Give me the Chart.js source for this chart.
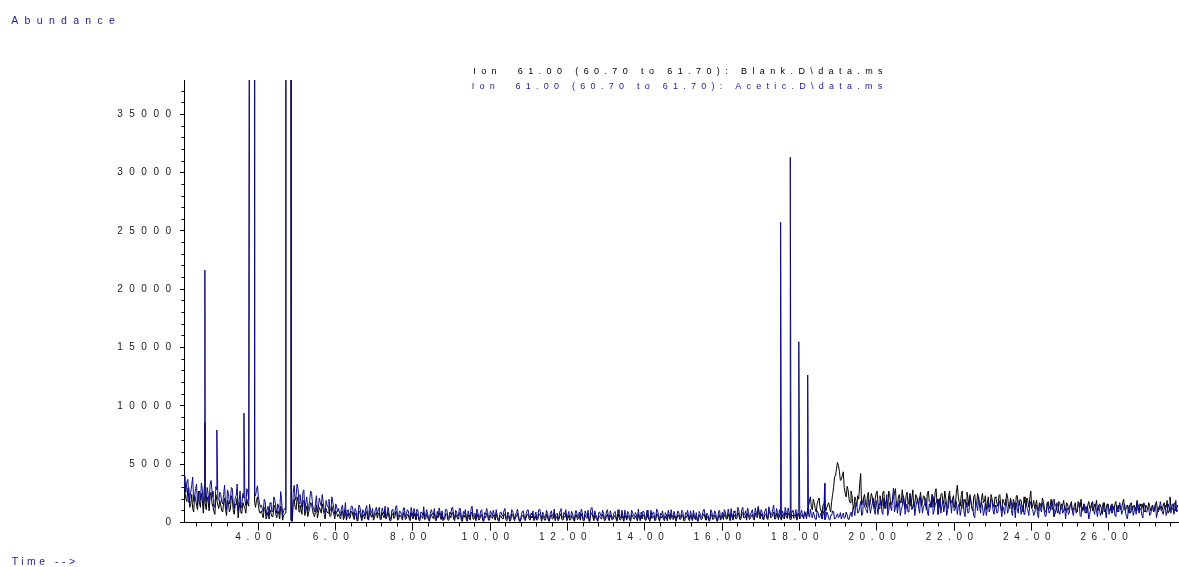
<!DOCTYPE html>
<html>
<head>
<meta charset="utf-8">
<script src="https://cdn.jsdelivr.net/npm/chart.js@4.4.1/dist/chart.umd.min.js"></script>
<style>
  html, body { margin: 0; padding: 0; background: #fff; }
  canvas { display: block; }
</style>
</head>
<body>
<canvas id="tic" width="1179" height="567"></canvas>
<script>
// Extracted ion chromatograms, m/z 61.
// Scans on a 0.05 min grid from 2.08 min, plus the half-step scans in between.
const T0 = 2.08;
const DT = 0.05;
const X_MIN = 2.08, X_MAX = 27.8;
const Y_MIN = 0, Y_MAX = 37950;

// Acetic.D — abundance at T0 + i*DT (null = inside an off-scale peak)
const aceticSignal = [
  3950, 2600, 3700, 2100, 3200, 1800, 2900, 1500, 2700, 3400, 1400, 2500, 3000, 1700, 3600, 2200, 1300, 2800, 1900, 2400,
  1600, 3200, 1100, 2500, 1900, 2900, 1200, 2300, 1000, 2700, 1700, 2100, 1400, 2600, null, null, null, 2300, 3150, 1700,
  1500, 900, 1800, 1100, 700, 1600, 1000, 1900, 800, 1300, 2650, 600, 1200, null, null, null, 150, 3200, 2300, 2900,
  2400, 1300, 2800, 1700, 1000, 1900, 2500, 1200, 1600, 900, 2100, 1400, 1800, 800, 1500, 2000, 1100, 1700, 700, 1300,
  1200, 600, 1500, 900, 400, 1100, 800, 1400, 500, 1000, 700, 1300, 350, 900, 1200, 600, 1550, 800, 450, 1100,
  700, 1300, 500, 950, 1400, 600, 850, 300, 1150, 750, 1450, 550, 900, 400, 1250, 700, 1000, 350, 850, 1200,
  500, 1000, 300, 850, 1350, 600, 750, 250, 1100, 650, 400, 950, 1250, 550, 300, 800, 1050, 450, 700, 1300,
  350, 900, 600, 1150, 250, 750, 500, 1000, 400, 1400, 650, 300, 850, 550, 1100, 200, 700, 950, 450, 800,
  1050, 400, 650, 250, 900, 550, 1200, 350, 700, 450, 1000, 300, 800, 600, 150, 950, 500, 750, 1100, 400,
  650, 300, 900, 500, 1150, 250, 700, 450, 850, 200, 1000, 600, 350, 800, 550, 1200, 400, 700, 300, 950,
  500, 750, 250, 1000, 600, 400, 850, 300, 700, 1050, 450, 1300, 350, 650, 200, 900, 550, 800, 400, 1100,
  300, 700, 550, 950, 250, 800, 450, 600, 1050, 350, 750, 200, 900, 500, 650, 1150, 300, 550, 850, 400,
  750, 250, 600, 900, 400, 1000, 200, 650, 500, 850, 300, 700, 1100, 450, 600, 250, 800, 550, 950, 350,
  700, 450, 1000, 300, 600, 850, 200, 750, 500, 1150, 400, 650, 300, 900, 550, 800, 250, 1050, 600, 450,
  900, 500, 750, 1200, 350, 850, 600, 1000, 450, 1300, 700, 400, 950, 600, 1100, 350, 800, 1400, 550, 900,
  650, 1200, 400, 950, 700, 1500, 500, 850, 1100, 300, 750, 1300, 600, 900, 450, 1050, 700, 350, 1200, 800,
  500, 950, 300, 700, 1150, 400, 650, 250, 850, 550, 300, 1000, 450, 700, 200, 600, 900, 350, 750, 500,
  300, 800, 450, 650, 250, 900, 1300, 600, 1500, 900, 1800, 700, 1400, 1000, 2000, 800, 1600, 1100, 1900, 700,
  1500, 900, 2100, 1200, 600, 1700, 1000, 2950, 1300, 800, 1900, 1100, 2300, 700, 1600, 1000, 2000, 1400, 600, 1800,
  1200, 2200, 800, 1500, 1900, 600, 1300, 2400, 1000, 1700, 700, 2100, 1400, 900, 1800, 1100, 2300, 800, 1500, 1200,
  700, 1600, 1100, 2000, 500, 1300, 900, 1800, 1200, 400, 1500, 2200, 800, 1400, 1000, 600, 1700, 1200, 1900, 700,
  1300, 900, 1600, 500, 1100, 2000, 800, 1400, 1000, 1700, 400, 1200, 1900, 700, 1500, 900, 1300, 600, 1800, 1100,
  800, 1500, 400, 1200, 1700, 900, 600, 1300, 1000, 1900, 500, 1100, 1400, 700, 1600, 1000, 300, 1200, 900, 1500,
  600, 1300, 1000, 1700, 500, 1100, 800, 1400, 300, 1200, 1800, 700, 1000, 1500, 600, 1300, 900, 400, 1600, 1100,
  800, 1400, 500, 1100, 1700, 700, 1200, 900, 300, 1500, 1000, 600, 1300, 1800, 800, 1100, 400, 1400, 900, 1200,
  700, 1500, 1000, 400, 1300, 1800, 900, 1200, 600, 1600, 1000, 1400, 700, 1900, 1100
];

// Acetic.D — abundance at T0 + DT/2 + i*DT
const aceticHalfStep = [
  2900, 3500, 1700, 2600, 3900, 2200, 3300, 2500, 1900, 2800, 3100, 1800, 2400, 3300, 2700, 1500, 3100, 2000, 2600, 1800,
  2400, 1400, 2800, 1600, 3000, 1500, 2100, 3300, 1800, 1300, 2500, 1900, 2900, 2000, null, null, 2500, 2800, 2200, 1300,
  1200, 2000, 600, 1400, 1700, 900, 2200, 1300, 1600, 700, 1900, 1000, 1100, null, null, 200, 2600, 1900, 3300, 1600,
  1800, 2600, 1000, 2200, 1400, 2700, 1500, 900, 2300, 1300, 1700, 2400, 1100, 1900, 1300, 1000, 2200, 1200, 1600, 900,
  800, 1300, 500, 1700, 1000, 600, 1400, 900, 1200, 300, 1500, 800, 1100, 600, 1450, 350, 1000, 1200, 700, 1300,
  1100, 400, 1250, 700, 500, 1300, 300, 1050, 600, 1350, 400, 1000, 650, 1250, 450, 1100, 550, 1300, 500, 750,
  1150, 350, 900, 600, 450, 1100, 400, 950, 700, 1200, 300, 650, 850, 1000, 500, 1150, 350, 900, 1250, 550,
  1050, 500, 1250, 300, 950, 1100, 250, 650, 1200, 550, 800, 1150, 400, 1000, 300, 850, 1200, 350, 1000, 600,
  700, 1100, 300, 850, 600, 1000, 450, 900, 250, 1100, 600, 750, 1150, 200, 650, 1000, 300, 1050, 550, 800,
  1000, 550, 350, 1100, 700, 900, 400, 1050, 300, 800, 550, 1150, 700, 300, 1000, 450, 850, 1100, 600, 400,
  950, 350, 1000, 450, 900, 1150, 300, 1000, 600, 250, 1200, 700, 1000, 450, 850, 600, 1050, 300, 900, 550,
  1000, 350, 850, 500, 1100, 400, 1050, 250, 700, 950, 450, 1050, 600, 850, 300, 550, 900, 1000, 350, 1050,
  400, 1050, 850, 300, 1150, 500, 800, 1000, 300, 650, 1050, 400, 550, 950, 250, 1000, 400, 1050, 300, 850,
  1050, 300, 600, 1050, 400, 250, 950, 450, 1000, 650, 800, 300, 1100, 450, 1000, 300, 950, 350, 900, 1100,
  450, 1150, 300, 650, 1000, 500, 1300, 400, 1100, 600, 1000, 1250, 450, 900, 500, 1250, 600, 900, 1100, 400,
  1000, 550, 1350, 600, 1100, 450, 1200, 400, 650, 1000, 500, 850, 1250, 400, 950, 550, 1100, 800, 500, 1050,
  300, 700, 1050, 450, 600, 900, 300, 1000, 400, 800, 650, 250, 900, 350, 600, 1000, 300, 550, 400, 850,
  600, 350, 900, 300, 700, 500, 1100, 1700, 800, 1300, 600, 2100, 1200, 800, 1500, 1200, 2100, 700, 1300, 1600,
  1900, 700, 1400, 2400, 1000, 1300, 2200, 900, 1800, 1500, 600, 1400, 2000, 1200, 900, 2400, 1100, 1800, 1300, 2100,
  800, 1700, 1400, 2100, 900, 1600, 1900, 700, 1500, 2000, 1200, 800, 1900, 1500, 600, 1400, 1700, 2000, 1000, 1800,
  1400, 600, 1900, 900, 1700, 800, 2100, 1300, 600, 1700, 1000, 1400, 1800, 600, 1700, 1200, 900, 2000, 1000, 1500,
  800, 1900, 1200, 1400, 700, 1600, 1100, 1900, 600, 1300, 1700, 800, 1500, 1100, 700, 1800, 1000, 1500, 1200, 600,
  1300, 700, 1600, 900, 1400, 500, 1700, 800, 1500, 1200, 700, 1700, 1000, 1300, 800, 1400, 1200, 700, 1600, 1000,
  1200, 800, 1500, 600, 1300, 1600, 900, 1200, 700, 1500, 1000, 1400, 500, 1200, 900, 1700, 1100, 1300, 700, 1400,
  1100, 600, 1500, 900, 1300, 1000, 1600, 500, 1200, 800, 1400, 1000, 700, 1500, 1200, 600, 1700, 900, 1300, 600,
  1200, 900, 1600, 800, 1100, 1400, 700, 1500, 1000, 1300, 800, 1600, 1200, 900
];

// Blank.D — abundance at T0 + i*DT
const blankSignal = [
  3400, 2000, 2900, 1300, 2400, 900, 2000, 1100, 1700, 2500, 800, 1600, 2200, 1000, 2600, 1400, 700, 1900, 1200, 1500,
  900, 2100, 600, 1700, 1200, 2000, 700, 1500, 400, 1800, 1000, 1400, 800, 1600, null, null, null, 1300, 2200, 900,
  1000, 400, 1200, 600, 300, 1100, 500, 1300, 400, 800, 1400, 200, 700, null, null, null, 100, 2000, 1100, 1800,
  1500, 700, 1900, 1000, 500, 1200, 1600, 700, 1000, 400, 1300, 800, 1100, 300, 900, 1300, 600, 1000, 300, 800,
  700, 300, 1000, 500, 200, 800, 400, 900, 250, 650, 350, 850, 150, 550, 800, 300, 1000, 450, 200, 700,
  400, 850, 250, 600, 950, 300, 500, 150, 750, 400, 950, 250, 550, 200, 800, 350, 650, 150, 500, 800,
  250, 650, 150, 500, 900, 300, 450, 100, 700, 350, 200, 600, 850, 250, 150, 500, 700, 200, 400, 850,
  150, 550, 300, 750, 100, 450, 250, 650, 200, 900, 350, 150, 500, 300, 700, 100, 400, 600, 200, 500,
  650, 200, 400, 100, 550, 300, 750, 150, 450, 200, 650, 150, 500, 350, 100, 600, 250, 450, 700, 200,
  400, 150, 550, 250, 700, 100, 450, 200, 550, 100, 650, 350, 150, 500, 300, 750, 200, 450, 150, 600,
  250, 450, 100, 650, 350, 200, 550, 150, 450, 700, 250, 800, 150, 400, 100, 550, 300, 500, 200, 700,
  150, 450, 300, 600, 100, 500, 250, 350, 650, 200, 450, 100, 550, 300, 400, 700, 150, 300, 550, 200,
  450, 100, 350, 550, 200, 650, 100, 400, 250, 550, 150, 450, 700, 250, 350, 100, 500, 300, 600, 150,
  450, 250, 650, 150, 350, 550, 100, 450, 300, 750, 200, 400, 150, 600, 300, 500, 100, 650, 350, 250,
  550, 300, 450, 750, 200, 550, 350, 650, 250, 850, 400, 200, 600, 350, 700, 200, 500, 1270, 300, 550,
  400, 750, 250, 950, 450, 900, 300, 550, 700, 200, 450, 850, 350, 600, 250, 650, 450, 200, 800, 500,
  600, 900, 450, 1400, 2200, 1100, 1700, 900, 1900, 1300, 800, 1600, 1000, 1500, 1200, 1800, 3000, 4000, 5150, 4400,
  3700, 4350, 2500, 3100, 2000, 2700, 1500, 2200, 1400, 2000, 4200, 1800, 2400, 1300, 2600, 1700, 2200, 1200, 2500, 1600,
  2300, 1400, 2700, 1800, 1100, 2500, 1600, 2200, 2900, 1300, 2400, 1700, 2100, 1200, 2600, 1900, 1400, 2800, 1600, 2200,
  1500, 2600, 1800, 2200, 1100, 2700, 1700, 2400, 1300, 2900, 2000, 1400, 2500, 1600, 2100, 1200, 2700, 1800, 2300, 1500,
  3200, 1700, 2300, 1200, 2000, 2600, 1400, 1900, 1000, 2400, 1600, 2100, 1300, 2500, 1800, 1100, 2200, 1500, 2000, 1300,
  2100, 1400, 2400, 1000, 1800, 1500, 2200, 1200, 1700, 2000, 1100, 2300, 1500, 1900, 900, 1700, 2100, 1300, 2700, 1500,
  1200, 1900, 1000, 1600, 2100, 1300, 900, 1800, 1400, 1100, 2000, 1500, 800, 1700, 1200, 1900, 1000, 1600, 1300, 1800,
  1100, 1700, 900, 1500, 2000, 1200, 1400, 800, 1800, 1300, 1000, 1600, 1900, 1100, 1500, 700, 1700, 1200, 1400, 1000,
  1600, 1100, 1800, 900, 1400, 1200, 2000, 1000, 1500, 800, 1700, 1300, 1100, 1900, 1000, 1400, 1600, 900, 1300, 1700,
  1000, 1500, 1200, 1800, 900, 1400, 1100, 1700, 1300, 800, 2200, 1200, 1600, 1000, 1500
];

// Blank.D — abundance at T0 + DT/2 + i*DT
const blankHalfStep = [
  2600, 1800, 3000, 1600, 1200, 2300, 1500, 2700, 1300, 1900, 2100, 1100, 1800, 2300, 1600, 900, 2400, 1500, 1900, 1000,
  1700, 1100, 1900, 900, 2300, 1000, 1600, 2100, 1200, 800, 1700, 1200, 2000, 1400, null, null, 1800, 1900, 1400, 800,
  700, 1300, 300, 900, 1100, 500, 1500, 700, 1000, 300, 1200, 600, 800, null, null, 150, 1700, 1300, 2200, 900,
  1200, 1800, 600, 1400, 900, 1700, 1000, 500, 1500, 800, 1100, 1600, 700, 1200, 800, 500, 1400, 700, 1000, 500,
  500, 900, 250, 1100, 600, 350, 950, 500, 800, 150, 1000, 450, 700, 300, 950, 200, 650, 800, 400, 850,
  700, 250, 850, 400, 300, 900, 150, 700, 350, 900, 200, 650, 400, 850, 250, 700, 300, 850, 300, 500,
  750, 200, 600, 350, 250, 750, 200, 650, 400, 800, 150, 400, 550, 700, 300, 750, 200, 600, 800, 300,
  700, 300, 850, 150, 650, 750, 100, 400, 800, 300, 550, 750, 200, 650, 150, 550, 800, 200, 650, 350,
  450, 750, 150, 550, 350, 650, 250, 600, 100, 750, 350, 500, 800, 100, 400, 650, 150, 700, 300, 550,
  650, 300, 200, 750, 450, 600, 200, 700, 150, 550, 300, 800, 450, 150, 650, 250, 550, 750, 350, 200,
  600, 200, 650, 250, 600, 750, 150, 650, 350, 100, 800, 450, 650, 250, 550, 350, 700, 150, 600, 300,
  650, 200, 550, 300, 750, 200, 700, 100, 450, 600, 250, 700, 350, 550, 150, 350, 600, 650, 200, 700,
  250, 700, 550, 150, 750, 300, 550, 650, 150, 400, 700, 250, 350, 600, 100, 650, 250, 700, 150, 550,
  700, 150, 400, 700, 250, 150, 650, 250, 650, 400, 550, 150, 750, 250, 650, 150, 600, 200, 600, 750,
  300, 750, 150, 450, 650, 300, 850, 250, 750, 400, 650, 800, 250, 600, 300, 800, 400, 600, 750, 250,
  650, 350, 900, 400, 700, 300, 800, 250, 450, 650, 300, 550, 800, 250, 600, 350, 700, 500, 300, 650,
  400, 700, 1000, 1800, 1300, 2000, 1200, 1600, 2100, 1000, 1500, 1900, 1300, 1700, 900, 2400, 3900, 4600, 4900, 3600,
  4000, 3000, 2200, 2800, 1700, 2300, 1200, 1900, 2300, 3300, 1500, 2100, 1700, 2300, 1300, 2500, 1600, 2000, 2700, 1200,
  1800, 2600, 1200, 2000, 2700, 1500, 1900, 2500, 1400, 2200, 1700, 2800, 1500, 2300, 1600, 2500, 2100, 1300, 2400, 1800,
  2100, 1400, 2300, 1600, 2500, 1800, 1300, 2200, 2600, 1700, 1300, 2400, 1900, 2700, 1400, 2300, 1600, 2000, 1300, 2600,
  2200, 1400, 2700, 1800, 1500, 2100, 2400, 1200, 2200, 1500, 2500, 1400, 2000, 1700, 2300, 1600, 1300, 2400, 1600, 2200,
  1600, 2300, 1300, 2000, 1500, 2500, 1400, 2100, 1200, 1700, 2300, 1400, 2000, 1200, 2200, 1400, 1800, 2100, 1200, 1900,
  1500, 1100, 1700, 1300, 1800, 900, 1600, 1200, 2000, 1300, 1500, 1000, 1800, 1100, 1500, 1200, 1700, 1100, 1500, 1000,
  1400, 1000, 1800, 1300, 1000, 1600, 1100, 1500, 1200, 1700, 1100, 1400, 1000, 1600, 1200, 1400, 1000, 1600, 1100, 1500,
  1200, 1600, 1000, 1500, 1100, 1700, 1200, 1400, 900, 1600, 1100, 1500, 1300, 1000, 1600, 1200, 1000, 1500, 1100, 1400,
  1300, 900, 1600, 1100, 1400, 1000, 1500, 1200, 1900, 1000, 1400, 1100, 1700, 1200
];

// Sharp peaks (retention time, min / apex abundance)
const aceticPeakTime   = [2.62, 2.93, 3.63, 17.51, 17.76, 17.98, 18.21, 18.65];
const aceticPeakHeight = [21650, 7930, 9390, 25750, 31320, 15500, 12650, 3360];
const blankPeakTime    = [2.62];
const blankPeakHeight  = [8560];

// Saturated peaks running off the top of the axis (start / end time, apex)
const offscaleStart = [3.776, 4.715];
const offscaleEnd   = [3.904, 4.850];
const offscaleApex  = [58000, 64000];

// Axis ticks
const timeTicks = [4, 6, 8, 10, 12, 14, 16, 18, 20, 22, 24, 26];
const abundanceTicks = [0, 5000, 10000, 15000, 20000, 25000, 30000, 35000];
const TIME_MINOR_STEP = 0.4;
const ABUNDANCE_MINOR_STEP = 1000;

const headerBlank  = 'Ion  61.00 (60.70 to 61.70): Blank.D\\data.ms';
const headerAcetic = 'Ion  61.00 (60.70 to 61.70): Acetic.D\\data.ms';

const BLUE = '#0b0b86';
const TEXT_BLUE = '#1c1c98';
const FONT = '"Liberation Sans", Arial, sans-serif';

function buildSeries(onGrid, halfStep, peakT, peakH) {
  const pts = [];
  onGrid.forEach((v, i) => {
    if (v !== null) pts.push({ x: +(T0 + i * DT).toFixed(4), y: v });
  });
  halfStep.forEach((v, i) => {
    if (v !== null) pts.push({ x: +(T0 + DT / 2 + i * DT).toFixed(4), y: v });
  });
  peakT.forEach((t, k) => pts.push({ x: t, y: peakH[k] }));
  offscaleStart.forEach((t, k) => {
    pts.push({ x: t, y: offscaleApex[k] });
    pts.push({ x: offscaleEnd[k], y: offscaleApex[k] });
  });
  pts.sort((a, b) => a.x - b.x);
  return pts;
}

function minorTicks(lo, hi, step) {
  const out = [];
  for (let k = Math.ceil(lo / step - 1e-9); k * step <= hi + 1e-9; k++) {
    const v = +(k * step).toFixed(4);
    if (v > lo + 1e-6 && v < hi - 1e-6) out.push({ value: v });
  }
  return out;
}

// Wide-tracked lettering, as on the instrument printout
function spaceLabels(scale, spacing) {
  if (scale._tracked) return;
  const draw = scale.drawLabels.bind(scale);
  scale.drawLabels = (area) => {
    const ctx = scale.ctx;
    ctx.save();
    ctx.letterSpacing = spacing;
    draw(area);
    ctx.restore();
  };
  scale._tracked = true;
}

const textPlugin = {
  id: 'chemstationText',
  beforeDraw(chart) {
    spaceLabels(chart.scales.x, '5.6px');
    spaceLabels(chart.scales.y, '6.5px');
  },
  afterDraw(chart) {
    const ctx = chart.ctx;
    ctx.save();
    ctx.textAlign = 'left';
    ctx.textBaseline = 'alphabetic';

    ctx.font = '10.5px ' + FONT;
    ctx.fillStyle = TEXT_BLUE;
    ctx.letterSpacing = '6.3px';
    ctx.fillText('Abundance', 11.3, 23.5);

    ctx.letterSpacing = '3.5px';
    ctx.fillText('Time -->', 11.7, 565);

    ctx.font = '9px ' + FONT;
    ctx.letterSpacing = '5.4px';
    ctx.fillStyle = '#000';
    ctx.fillText(headerBlank, 473.3, 73.7);
    ctx.letterSpacing = '5.26px';
    ctx.fillStyle = TEXT_BLUE;
    ctx.fillText(headerAcetic, 471.7, 88.5);
    ctx.restore();
  }
};

const tickFont = { family: FONT, size: 10 };

new Chart(document.getElementById('tic'), {
  type: 'line',
  data: {
    datasets: [
      {
        label: 'Acetic.D',
        data: buildSeries(aceticSignal, aceticHalfStep, aceticPeakTime, aceticPeakHeight),
        borderColor: BLUE,
        borderWidth: 1,
        borderJoinStyle: 'bevel',
        pointRadius: 0,
        tension: 0,
        fill: false,
        xAxisID: 'x',
        yAxisID: 'y'
      },
      {
        label: 'Blank.D',
        data: buildSeries(blankSignal, blankHalfStep, blankPeakTime, blankPeakHeight),
        borderColor: '#000',
        borderWidth: 1,
        borderJoinStyle: 'bevel',
        pointRadius: 0,
        tension: 0,
        fill: false,
        xAxisID: 'x',
        yAxisID: 'y'
      }
    ]
  },
  options: {
    responsive: false,
    animation: false,
    parsing: false,
    normalized: true,
    events: [],
    layout: { autoPadding: false, padding: { left: 0, top: 80, right: 0.5, bottom: 0 } },
    plugins: { legend: { display: false }, tooltip: { enabled: false }, title: { display: false } },
    scales: {
      x: {
        type: 'linear', position: 'bottom', min: X_MIN, max: X_MAX, weight: 1,
        afterFit: s => { s.height = 44.5; },
        afterBuildTicks: s => { s.ticks = timeTicks.map(v => ({ value: v })); },
        grid: { drawOnChartArea: false, drawTicks: true, tickLength: 8, color: '#000', tickColor: '#000', tickWidth: 1 },
        border: { display: true, color: '#000', width: 1 },
        ticks: { autoSkip: false, maxRotation: 0, padding: 1, labelOffset: -2, color: '#222', font: tickFont,
                 callback: v => Number(v).toFixed(2) }
      },
      xMinor: {
        type: 'linear', axis: 'x', position: 'bottom', min: X_MIN, max: X_MAX, weight: 0,
        afterFit: s => { s.height = 0; },
        afterBuildTicks: s => { s.ticks = minorTicks(X_MIN, X_MAX, TIME_MINOR_STEP); },
        grid: { drawOnChartArea: false, drawTicks: true, tickLength: 4, color: '#000', tickColor: '#000', tickWidth: 1 },
        border: { display: false },
        ticks: { display: false }
      },
      y: {
        type: 'linear', position: 'left', min: Y_MIN, max: Y_MAX, weight: 1,
        afterFit: s => { s.width = 184; },
        afterBuildTicks: s => { s.ticks = abundanceTicks.map(v => ({ value: v })); },
        grid: { drawOnChartArea: false, drawTicks: true, tickLength: 4, color: '#000', tickColor: '#000', tickWidth: 1 },
        border: { display: true, color: '#000', width: 1 },
        ticks: { autoSkip: false, padding: 2.5, color: '#222', font: tickFont,
                 callback: v => String(v) }
      },
      yMinor: {
        type: 'linear', axis: 'y', position: 'left', min: Y_MIN, max: Y_MAX, weight: 0,
        afterFit: s => { s.width = 0; },
        afterBuildTicks: s => { s.ticks = minorTicks(Y_MIN, Y_MAX, ABUNDANCE_MINOR_STEP); },
        grid: { drawOnChartArea: false, drawTicks: true, tickLength: 2.5, color: '#000', tickColor: '#000', tickWidth: 1 },
        border: { display: false },
        ticks: { display: false }
      }
    }
  },
  plugins: [textPlugin]
});
</script>
</body>
</html>
